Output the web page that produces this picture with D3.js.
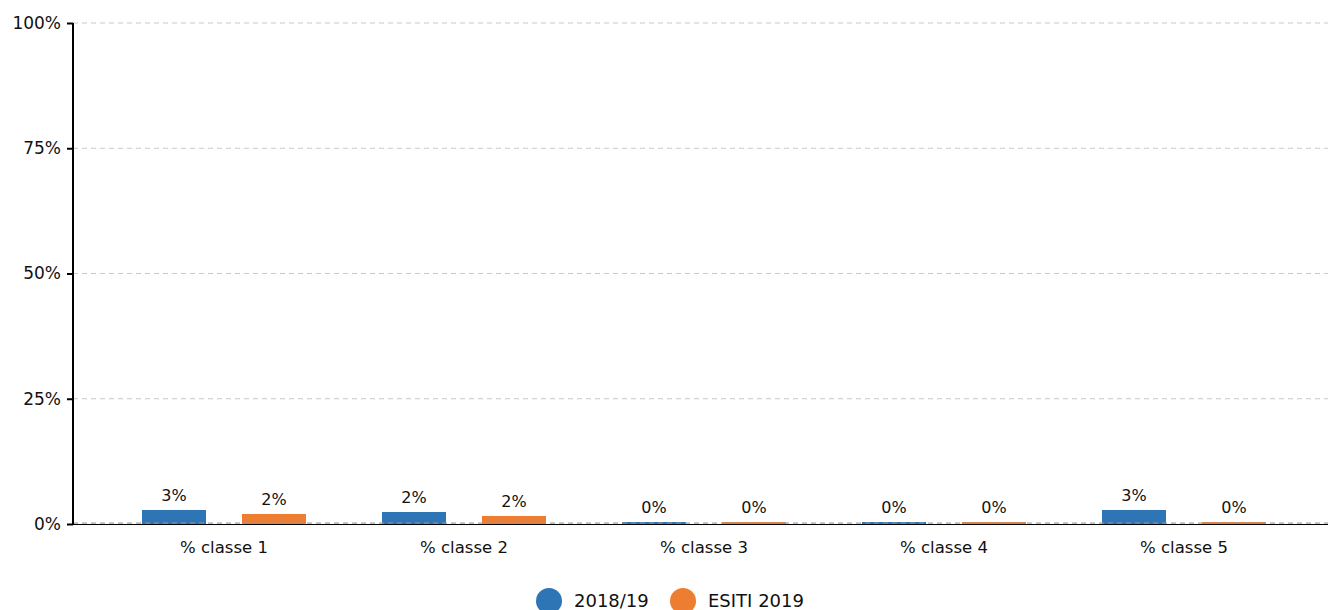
<!DOCTYPE html>
<html>
<head>
<meta charset="utf-8">
<script src="https://cdn.jsdelivr.net/npm/d3@7"></script>
<style>
	body { margin: 0; background: #fff; }
	svg { display: block; font-family: "DejaVu Sans", sans-serif; }
	.grid line { stroke: #c8c8c8; stroke-dasharray: 5,4; }
</style>
</head>
<body>
<script>
	// Data
	let categories = ['% classe 1', '% classe 2', '% classe 3', '% classe 4', '% classe 5'];
	let series = ['2018/19', 'ESITI 2019'];
	let values2018 = [2.8, 2.4, 0, 0, 2.8];
	let valuesEsiti = [2.0, 1.6, 0, 0, 0];
	let yTicks = [0, 25, 50, 75, 100];
	let colors = ['#2e75b6', '#ed7d31'];

	let width = 1328, height = 610;
	let plot = {left: 73, right: 1328, top: 23, bottom: 524};

	let svg = d3.select('body').append('svg')
		.attr('width', width)
		.attr('height', height);

	let y = d3.scaleLinear().domain([0, 100]).range([plot.bottom, plot.top]);
	let x0 = d3.scaleBand().domain(categories).range([104, 1304]);
	let x1 = d3.scaleBand().domain(series).range([0, x0.bandwidth()])
		.paddingInner(0.36).paddingOuter(0.38);
	let color = d3.scaleOrdinal().domain(series).range(colors);

	// Grid lines
	svg.append('g')
		.attr('class', 'grid')
		.selectAll('line')
		.data(yTicks).enter()
		.append('line')
		.attr('x1', plot.left)
		.attr('x2', plot.right)
		.attr('y1', d => y(d))
		.attr('y2', d => y(d));

	// Bars
	let rows = categories.map((c, i) => ({
		cat: c,
		vals: [
			{s: series[0], v: values2018[i]},
			{s: series[1], v: valuesEsiti[i]}
		]
	}));

	let groups = svg.append('g')
		.selectAll('g')
		.data(rows).enter()
		.append('g')
		.attr('transform', d => 'translate(' + x0(d.cat) + ',0)');

	groups.selectAll('rect')
		.data(d => d.vals).enter()
		.append('rect')
		.attr('x', d => x1(d.s))
		.attr('width', x1.bandwidth())
		.attr('y', d => Math.min(y(d.v), plot.bottom - 2))
		.attr('height', d => Math.max(plot.bottom - y(d.v), 2))
		.attr('fill', d => color(d.s));

	groups.selectAll('text')
		.data(d => d.vals).enter()
		.append('text')
		.attr('x', d => x1(d.s) + x1.bandwidth() / 2)
		.attr('y', d => Math.min(y(d.v), plot.bottom - 2) - 9)
		.attr('text-anchor', 'middle')
		.attr('font-size', 16)
		.attr('fill', '#111')
		.text(d => Math.round(d.v) + '%');

	// X axis line
	svg.append('line')
		.attr('x1', plot.left)
		.attr('x2', plot.right)
		.attr('y1', plot.bottom + 0.5)
		.attr('y2', plot.bottom + 0.5)
		.attr('stroke', '#000')
		.attr('stroke-width', 1);
	svg.append('line')
		.attr('x1', plot.left)
		.attr('x2', plot.right)
		.attr('y1', plot.bottom - 1)
		.attr('y2', plot.bottom - 1)
		.attr('stroke', '#999')
		.attr('stroke-dasharray', '5,4');

	// X labels
	svg.append('g')
		.selectAll('text')
		.data(categories).enter()
		.append('text')
		.attr('x', d => x0(d) + x0.bandwidth() / 2)
		.attr('y', 553)
		.attr('text-anchor', 'middle')
		.attr('font-size', 16.5)
		.attr('fill', '#111')
		.text(d => d);

	// Y axis
	let yAxis = d3.axisLeft(y)
		.tickValues(yTicks)
		.tickSize(6)
		.tickFormat(d => d + '%');
	let yg = svg.append('g')
		.attr('transform', 'translate(' + plot.left + ',0)')
		.call(yAxis);
	yg.select('.domain').remove();
	yg.selectAll('.tick line').attr('stroke', '#000').attr('stroke-width', 2);
	yg.selectAll('.tick text')
		.attr('font-size', 17)
		.attr('font-family', '"DejaVu Sans", sans-serif')
		.attr('fill', '#111')
		.attr('x', -12);
	svg.append('line')
		.attr('x1', plot.left)
		.attr('x2', plot.left)
		.attr('y1', plot.top)
		.attr('y2', plot.bottom + 1)
		.attr('stroke', '#000')
		.attr('stroke-width', 2);

	// Legend
	let legend = svg.append('g');
	let legendItems = [
		{s: series[0], cx: 549, tx: 574},
		{s: series[1], cx: 683, tx: 708}
	];
	legend.selectAll('circle')
		.data(legendItems).enter()
		.append('circle')
		.attr('cx', d => d.cx)
		.attr('cy', 601)
		.attr('r', 13)
		.attr('fill', d => color(d.s));
	legend.selectAll('text')
		.data(legendItems).enter()
		.append('text')
		.attr('x', d => d.tx)
		.attr('y', 607)
		.attr('font-size', 18)
		.attr('fill', '#111')
		.text(d => d.s);
</script>
</body>
</html>
